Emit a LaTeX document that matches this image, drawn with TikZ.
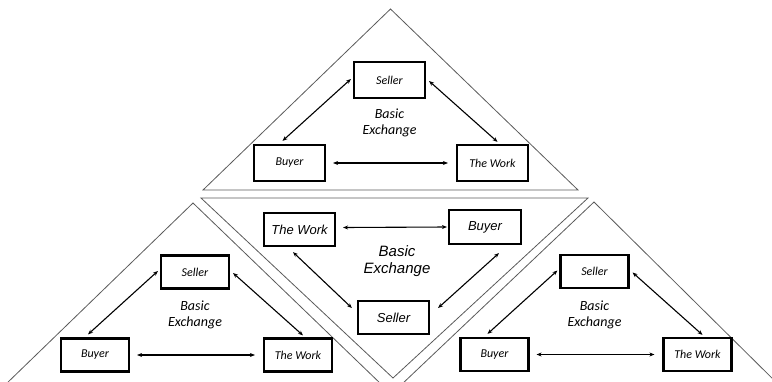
\documentclass[tikz,border=0pt]{standalone}
\usepackage{fontspec}
\setmainfont{Carlito}
\newfontfamily\arialf{Liberation Sans}
\usetikzlibrary{arrows.meta,calc}
\definecolor{triline}{RGB}{90,90,90}
\tikzset{
 exbox/.style={draw=black, line width=2.2pt, inner sep=0pt, font=\fontsize{12}{14}\selectfont\itshape},
 mbox/.style={exbox, minimum width=71pt, minimum height=33pt, font=\arialf\fontsize{13}{15}\selectfont\itshape},
 arr/.style={line width=1.1pt, {Stealth[length=5pt,width=4pt]}-{Stealth[length=5pt,width=4pt]}},
 tri/.style={draw=triline, line width=0.8pt, line join=miter},
 lbl/.style={align=center, inner sep=0pt, font=\fontsize{14}{16}\selectfont\itshape},
}
\newcommand\exgroup[5]{%
 \begin{scope}[shift={(#2,#3)}]
 \node[exbox, minimum width=#4, minimum height=#5] (#1s) at (0,0) {Seller};
 \node[exbox, minimum width=#4, minimum height=#5] (#1b) at (-100,83) {Buyer};
 \node[exbox, minimum width=#4, minimum height=#5] (#1w) at (103,83) {The Work};
 \node[lbl] (#1t) at (0,43) {Basic\\Exchange};
 \end{scope}
 \draw[arr] ($(#1s.west)+(-2,-1)$) -- ($(#1b.north)+(-7,-3)$);
 \draw[arr] ($(#1s.east)+(3,1)$) -- ($(#1w.north)+(5,-2)$);
 \draw[arr, shorten <=7pt, shorten >=8pt] (#1b.east) -- (#1w.west);
}
\begin{document}
\begin{tikzpicture}[x=1pt, y=-1pt]
\useasboundingbox (0,0) rectangle (772,381);
% triangles
\draw[tri] (203,190) -- (390.5,9) -- (578,190) -- cycle;
\draw[tri] (201,198) -- (588,198) -- (393,378) -- cycle;
\draw[tri] (5,385) -- (193,203) -- (382,385);
\draw[tri] (401,385) -- (594,202) -- (780,386);
% outer groups
\exgroup{a}{389.5}{80}{71pt}{36pt}
\exgroup{l}{195}{272}{68pt}{33pt}
\exgroup{r}{594.5}{271.5}{68pt}{33pt}
% middle group
\node[mbox] (mw) at (299.5,229.5) {The Work};
\node[mbox, minimum width=72pt, minimum height=34pt] (mb) at (485,227) {Buyer};
\node[mbox] (ms) at (393.5,317.5) {Seller};
\node[lbl, font=\arialf\fontsize{15}{17}\selectfont\itshape] (mt) at (397,261) {Basic\\Exchange};
\draw[arr] ($(mw.east)+(7,-2)$) -- ($(mb.west)+(-1,0)$);
\draw[arr] ($(mw.south)+(-6.5,5)$) -- ($(ms.west)+(-5,-9.5)$);
\draw[arr] ($(mb.south)+(14,8)$) -- ($(ms.east)+(8,-9.5)$);
\end{tikzpicture}
\end{document}
